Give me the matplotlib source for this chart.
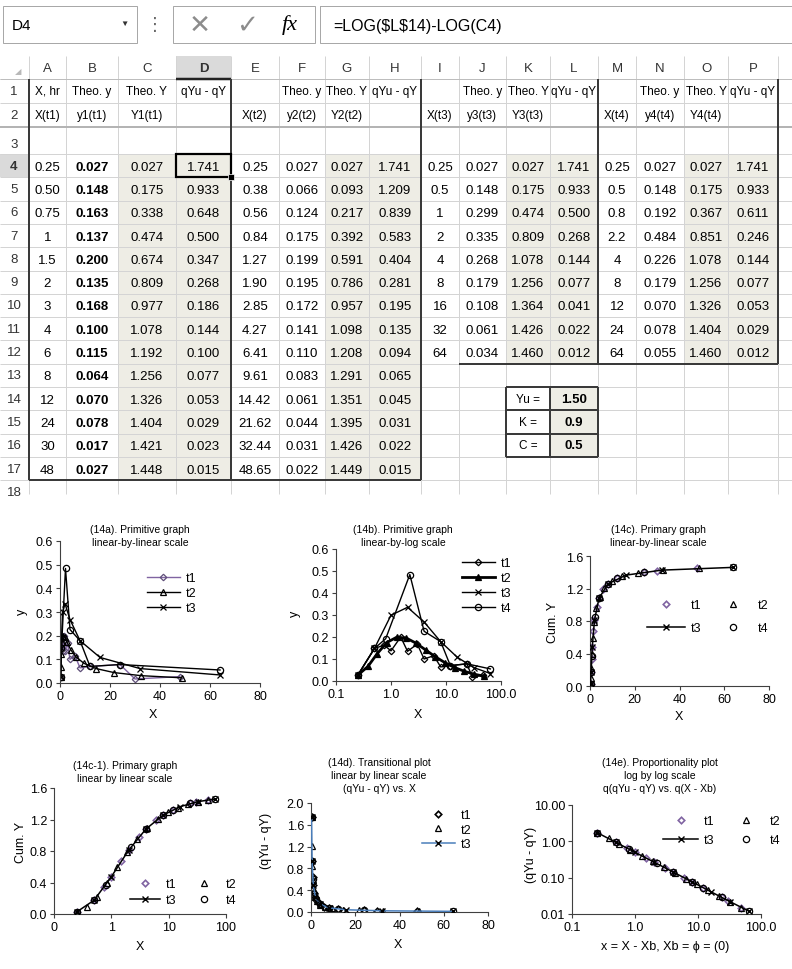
import matplotlib
matplotlib.use("Agg")
import matplotlib.pyplot as plt
from matplotlib.patches import Rectangle
from matplotlib.ticker import FixedLocator, FormatStrFormatter, NullLocator

plt.rcParams['font.family'] = ['Liberation Sans', 'DejaVu Sans']

# ---- values ----
# t1
x1_txt = ["0.25", "0.50", "0.75", "1", "1.5", "2", "3", "4", "6", "8", "12", "24", "30", "48"]
x1 = [float(s) for s in x1_txt]
y1 = [0.027, 0.148, 0.163, 0.137, 0.200, 0.135, 0.168, 0.100, 0.115, 0.064, 0.070, 0.078, 0.017, 0.027]
cum1 = [0.027, 0.175, 0.338, 0.474, 0.674, 0.809, 0.977, 1.078, 1.192, 1.256, 1.326, 1.404, 1.421, 1.448]
q1 = [1.741, 0.933, 0.648, 0.500, 0.347, 0.268, 0.186, 0.144, 0.100, 0.077, 0.053, 0.029, 0.023, 0.015]
# t2
x2 = [0.25, 0.38, 0.56, 0.84, 1.27, 1.90, 2.85, 4.27, 6.41, 9.61, 14.42, 21.62, 32.44, 48.65]
y2 = [0.027, 0.066, 0.124, 0.175, 0.199, 0.195, 0.172, 0.141, 0.110, 0.083, 0.061, 0.044, 0.031, 0.022]
cum2 = [0.027, 0.093, 0.217, 0.392, 0.591, 0.786, 0.957, 1.098, 1.208, 1.291, 1.351, 1.395, 1.426, 1.449]
q2 = [1.741, 1.209, 0.839, 0.583, 0.404, 0.281, 0.195, 0.135, 0.094, 0.065, 0.045, 0.031, 0.022, 0.015]
# t3
x3 = [0.25, 0.5, 1, 2, 4, 8, 16, 32, 64]
y3 = [0.027, 0.148, 0.299, 0.335, 0.268, 0.179, 0.108, 0.061, 0.034]
cum3 = [0.027, 0.175, 0.474, 0.809, 1.078, 1.256, 1.364, 1.426, 1.460]
q3 = [1.741, 0.933, 0.500, 0.268, 0.144, 0.077, 0.041, 0.022, 0.012]
# t4
x4 = [0.25, 0.5, 0.8, 2.2, 4, 8, 12, 24, 64]
y4 = [0.027, 0.148, 0.192, 0.484, 0.226, 0.179, 0.070, 0.078, 0.055]
cum4 = [0.027, 0.175, 0.367, 0.851, 1.078, 1.256, 1.326, 1.404, 1.460]
q4 = [1.741, 0.933, 0.611, 0.246, 0.144, 0.077, 0.053, 0.029, 0.012]

Yu = 1.50
K = 0.9
C = 0.5

col_letters = list("ABCDEFGHIJKLMNOP")
names = ["t1", "t2", "t3", "t4"]

W, H = 792, 970
fig = plt.figure(figsize=(W / 100, H / 100), dpi=100)
fig.patch.set_facecolor('white')

bg = fig.add_axes([0, 0, 1, 1])
bg.set_xlim(0, W)
bg.set_ylim(H, 0)
bg.axis('off')

GRID = '#D4D4D4'
DARK = '#3A3A3A'
BEIGE = '#EEEDE5'
lw_px = 0.72  # 1 px in points

# ---- formula bar ----
bg.add_patch(Rectangle((3, 7), 134, 37, fill=False, ec='#A8A8A8', lw=lw_px))
bg.text(12, 26, "D4", fontsize=11, va='center', ha='left')
bg.text(124, 24, "▼", fontsize=6, va='center', ha='center', color='#333333')
bg.text(155, 25, "⋮", fontsize=13, va='center', ha='center', color='#666666')
bg.add_patch(Rectangle((173, 7), 142, 37, fill=False, ec='#A8A8A8', lw=lw_px))
bg.text(200, 26, "✕", fontsize=19, va='center', ha='center', color='#8C8C8C',
        family=['DejaVu Sans'])
bg.text(247, 26, "✓", fontsize=19, va='center', ha='center', color='#8C8C8C',
        family=['DejaVu Sans'])
bg.text(290, 25, "fx", fontsize=16, va='center', ha='center', style='italic',
        family=['Liberation Serif', 'DejaVu Serif'])
bg.add_patch(Rectangle((320, 7), 480, 37, fill=False, ec='#A8A8A8', lw=lw_px))
bg.text(333, 26, "=LOG($L$14)-LOG(C4)", fontsize=11.5, va='center', ha='left',
        parse_math=False)

# ---- sheet grid ----
edges = [0, 29, 66, 118, 176, 231, 279, 325, 369, 421, 459, 506, 550, 598, 636, 684, 728, 778, 792]
tops = [57, 80, 104, 128, 155] + [155 + 23.3 * i for i in range(1, 16)]
BOTTOM = 495


def cx(c):
    return (edges[c + 1] + edges[c + 2]) / 2


def cy(r):
    return (tops[r] + tops[r + 1]) / 2


def fill(c, r, color):
    bg.add_patch(Rectangle((edges[c + 1], tops[r]), edges[c + 2] - edges[c + 1],
                           tops[r + 1] - tops[r], fc=color, ec='none', zorder=0.5))


# beige fills for the Theo. Y and qYu - qY columns
lengths = [len(x1), len(x2), len(x3), len(x4)]
for g, n in enumerate(lengths):
    for r in range(4, 4 + n):
        fill(4 * g + 2, r, BEIGE)
        fill(4 * g + 3, r, BEIGE)
for r in (14, 15, 16):
    fill(11, r, BEIGE)
# selected column / row headers
bg.add_patch(Rectangle((edges[4], tops[0]), edges[5] - edges[4], tops[1] - tops[0],
                       fc='#DADADA', ec='none', zorder=0.5))
bg.add_patch(Rectangle((0, tops[4]), edges[1], tops[5] - tops[4],
                       fc='#DADADA', ec='none', zorder=0.5))

bg.hlines(tops[1:19], 0, W, color=GRID, lw=lw_px, zorder=1)
bg.vlines(edges[1:-1], tops[0], BOTTOM, color=GRID, lw=lw_px, zorder=1)
bg.hlines([tops[3]], 0, W, color='#B4B4B4', lw=2 * lw_px, zorder=1)
bg.hlines([tops[1]], 0, W, color='#BDBDBD', lw=lw_px, zorder=1)
bg.hlines([tops[1]], edges[4], edges[5], color='#222222', lw=2.5 * lw_px, zorder=2)

# group borders
bg.vlines([edges[1], edges[5], edges[9]], tops[1], tops[18], color=DARK, lw=2 * lw_px, zorder=2)
bg.vlines([edges[13], edges[17]], tops[1], tops[13], color=DARK, lw=2 * lw_px, zorder=2)
bg.hlines([tops[18]], edges[1], edges[9], color=DARK, lw=2 * lw_px, zorder=2)
bg.hlines([tops[13]], edges[10], edges[17], color=DARK, lw=2 * lw_px, zorder=2)
# parameter box K14:L16
bg.vlines([edges[11], edges[12], edges[13]], tops[14], tops[17], color=DARK, lw=2 * lw_px, zorder=2)
bg.hlines(tops[14:18], edges[11], edges[13], color=DARK, lw=2 * lw_px, zorder=2)
# active cell D4
bg.add_patch(Rectangle((edges[4], tops[4]), edges[5] - edges[4], tops[5] - tops[4],
                       fill=False, ec='black', lw=2.2 * lw_px, zorder=3))
bg.add_patch(Rectangle((edges[5] - 3, tops[5] - 3), 6, 6, fc='black', ec='white',
                       lw=0.5, zorder=4))

# headers
bg.text(18, cy(0) + 3, "◢", fontsize=6, color='#B8B8B8', ha='center', va='center',
        family=['DejaVu Sans'])
for c, letter in enumerate(col_letters):
    bg.text(cx(c), cy(0), letter, fontsize=9.5, ha='center', va='center', color='#333333',
            fontweight='bold' if letter == 'D' else 'normal')
for r in range(1, 19):
    bg.text(14, cy(r) + (3 if r == 3 else 0), str(r), fontsize=9.5, ha='center',
            va='center', color='#333333', fontweight='bold' if r == 4 else 'normal')

# table contents
x_text = [x1_txt, [f"{v:.2f}" for v in x2], [f"{v:g}" for v in x3], [f"{v:g}" for v in x4]]
ys = [y1, y2, y3, y4]
cums = [cum1, cum2, cum3, cum4]
qs = [q1, q2, q3, q4]
for g in range(4):
    head1 = ["X, hr" if g == 0 else "", "Theo. y", "Theo. Y", "qYu - qY"]
    head2 = [f"X(t{g + 1})", f"y{g + 1}(t{g + 1})", f"Y{g + 1}(t{g + 1})", ""]
    for j in range(4):
        bg.text(cx(4 * g + j), cy(1), head1[j], fontsize=8.5, ha='center', va='center')
        bg.text(cx(4 * g + j), cy(2), head2[j], fontsize=8.5, ha='center', va='center')
    for i in range(lengths[g]):
        r = 4 + i
        cols = [x_text[g][i], f"{ys[g][i]:.3f}", f"{cums[g][i]:.3f}", f"{qs[g][i]:.3f}"]
        for j, s in enumerate(cols):
            bg.text(cx(4 * g + j), cy(r) + 1, s, fontsize=9.5, ha='center', va='center',
                    fontweight='bold' if (g == 0 and j == 1) else 'normal', zorder=3)

params = [("Yu =", f"{Yu:.2f}"), ("K =", f"{K:.1f}"), ("C =", f"{C:.1f}")]
for i, (lab, val) in enumerate(params):
    bg.text(cx(10), cy(14 + i), lab, fontsize=8.5, ha='center', va='center', zorder=3)
    bg.text(cx(11), cy(14 + i), val, fontsize=9.5, ha='center', va='center',
            fontweight='bold', zorder=3)


# ---- charts ----
PURPLE = '#8064A2'
AXC = '#404040'


def chart(x0, y0, x1_, y1_):
    ax = fig.add_axes([x0 / W, 1 - y1_ / H, (x1_ - x0) / W, (y1_ - y0) / H])
    ax.set_facecolor('none')
    for s in ('top', 'right'):
        ax.spines[s].set_visible(False)
    for s in ('left', 'bottom'):
        ax.spines[s].set_color(AXC)
        ax.spines[s].set_linewidth(0.8)
    ax.tick_params(direction='out', length=3, width=0.8, color=AXC, labelsize=9, pad=2)
    return ax


def fig_label(x, y, s, rot=0, size=9):
    bg.text(x, y, s, fontsize=size, ha='center', va='center', rotation=rot)


def title(x, y, lines):
    for i, s in enumerate(lines):
        bg.text(x, y + 13 * i, s, fontsize=7.5, ha='center', va='center')


def legend(ax, handles, labels, hx, ty, ncol=1, hl=2.6, sp=0.25, cs=1.2):
    return ax.legend(handles, labels, loc='upper left', bbox_to_anchor=(hx / W, 1 - ty / H),
                     bbox_transform=fig.transFigure, frameon=False, fontsize=9, ncol=ncol,
                     handlelength=hl, handletextpad=0.5, labelspacing=sp, columnspacing=cs,
                     borderpad=0, borderaxespad=0)


def log_x(ax, fmt):
    ax.set_xscale('log')
    ax.set_xlim(0.1, 100)
    ax.xaxis.set_major_locator(FixedLocator([0.1, 1, 10, 100]))
    ax.xaxis.set_minor_locator(NullLocator())
    ax.xaxis.set_major_formatter(FormatStrFormatter(fmt))


xs = [x1, x2, x3, x4]
ms = {'D': 3.3, '^': 4.5, 'x': 5, 'o': 4.5}
y_tenths = [0, 0.1, 0.2, 0.3, 0.4, 0.5, 0.6]


def mk(m, color='black', fc='none', mew=0.9):
    return dict(marker=m, ms=ms[m], mfc=fc, mec=color, mew=mew)


# 14a
ax = chart(60, 542, 260, 684)
la = [ax.plot(x1, y1, color=PURPLE, lw=1, **mk('D', '#5E4E78'))[0],
      ax.plot(x2, y2, color='black', lw=1, **mk('^'))[0],
      ax.plot(x3, y3, color='black', lw=1, **mk('x'))[0]]
ax.plot(x4, y4, color='black', lw=1, **mk('o'))
ax.set_xlim(0, 80)
ax.set_ylim(0, 0.6)
ax.xaxis.set_major_locator(FixedLocator([0, 20, 40, 60, 80]))
ax.yaxis.set_major_locator(FixedLocator(y_tenths))
ax.yaxis.set_major_formatter(FormatStrFormatter('%.1f'))
legend(ax, la, names[:3], 147, 573)
title(140, 530, ["(14a). Primitive graph", "linear-by-linear scale"])
fig_label(22, 612, "y", rot=90)
fig_label(153, 715, "X")

# 14b
ax = chart(336, 550, 501, 682)
lb = [ax.plot(x1, y1, color='black', lw=1, **mk('D'))[0],
      ax.plot(x2, y2, color='black', lw=2, **mk('^', fc='black'))[0],
      ax.plot(x3, y3, color='black', lw=1, **mk('x'))[0],
      ax.plot(x4, y4, color='black', lw=1, **mk('o'))[0]]
log_x(ax, '%.1f')
ax.set_ylim(0, 0.6)
ax.yaxis.set_major_locator(FixedLocator(y_tenths))
ax.yaxis.set_major_formatter(FormatStrFormatter('%.1f'))
legend(ax, lb, names, 462, 558)
title(403, 530, ["(14b). Primitive graph", "linear-by-log scale"])
fig_label(295, 614, "y", rot=90)
fig_label(418, 715, "X")


def primary(ax, qv, t3_color='black', t1_color=PURPLE):
    h1 = ax.plot(xs[0], qv[0], ls='none', **mk('D', t1_color, mew=1.2))[0]
    h2 = ax.plot(xs[1], qv[1], ls='none', **mk('^'))[0]
    h3 = ax.plot(xs[2], qv[2], color=t3_color, lw=1.1, zorder=3, **mk('x', mew=1))[0]
    h4 = ax.plot(xs[3], qv[3], ls='none', **mk('o'))[0]
    return [h1, h2, h3, h4]


# 14c
ax = chart(590, 557, 769, 687)
hc = primary(ax, cums)
ax.set_xlim(0, 80)
ax.set_ylim(0, 1.6)
ax.xaxis.set_major_locator(FixedLocator([0, 20, 40, 60, 80]))
ax.yaxis.set_major_locator(FixedLocator([0, 0.4, 0.8, 1.2, 1.6]))
ax.yaxis.set_major_formatter(FormatStrFormatter('%.1f'))
legend(ax, [hc[0], hc[2], hc[1], hc[3]], ["t1", "t3", "t2", "t4"], 647, 600,
       ncol=2, hl=3, sp=0.9, cs=1.0)
title(658, 530, ["(14c). Primary graph", "linear-by-linear scale"])
fig_label(553, 622, "Cum. Y", rot=90)
fig_label(679, 717, "X")

# 14c-1
ax = chart(54, 789, 226, 915)
hc1 = primary(ax, cums)
log_x(ax, '%.0f')
ax.set_ylim(0, 1.6)
ax.yaxis.set_major_locator(FixedLocator([0, 0.4, 0.8, 1.2, 1.6]))
ax.yaxis.set_major_formatter(FormatStrFormatter('%.1f'))
legend(ax, [hc1[0], hc1[2], hc1[1], hc1[3]], ["t1", "t3", "t2", "t4"], 130, 879,
       ncol=2, hl=2.4, sp=0.35, cs=1.0)
title(125, 766, ["(14c-1). Primary graph", "linear by linear scale"])
fig_label(21, 842, "Cum. Y", rot=90)
fig_label(140, 947, "X")

# 14d
ax = chart(311, 804, 488, 913)
hd = primary(ax, qs, t3_color='#4A7EBB', t1_color='black')
ax.set_xlim(0, 80)
ax.set_ylim(0, 2.0)
ax.xaxis.set_major_locator(FixedLocator([0, 20, 40, 60, 80]))
ax.yaxis.set_major_locator(FixedLocator([0, 0.4, 0.8, 1.2, 1.6, 2.0]))
ax.yaxis.set_major_formatter(FormatStrFormatter('%.1f'))
legend(ax, hd[:3], names[:3], 422, 810, hl=2.6, sp=0.2)
title(379, 763, ["(14d). Transitional plot", "linear by linear scale", "(qYu - qY) vs. X"])
fig_label(266, 841, "(qYu - qY)", rot=90)
fig_label(398, 945, "X")

# 14e
ax = chart(572, 806, 761, 915)
he = primary(ax, qs)
log_x(ax, '%.1f')
ax.set_yscale('log')
ax.set_ylim(0.01, 10)
ax.yaxis.set_major_locator(FixedLocator([0.01, 0.1, 1, 10]))
ax.yaxis.set_minor_locator(NullLocator())
ax.yaxis.set_major_formatter(FormatStrFormatter('%.2f'))
legend(ax, [he[0], he[2], he[1], he[3]], ["t1", "t3", "t2", "t4"], 663, 816,
       ncol=2, hl=2.8, sp=0.6, cs=1.1)
title(660, 763, ["(14e). Proportionality plot", "log by log scale", "q(qYu - qY) vs. q(X - Xb)"])
fig_label(531, 855, "(qYu - qY)", rot=90)
fig_label(665, 947, "x = X - Xb, Xb = ϕ = (0)")

fig.savefig("out.png", dpi=100)
